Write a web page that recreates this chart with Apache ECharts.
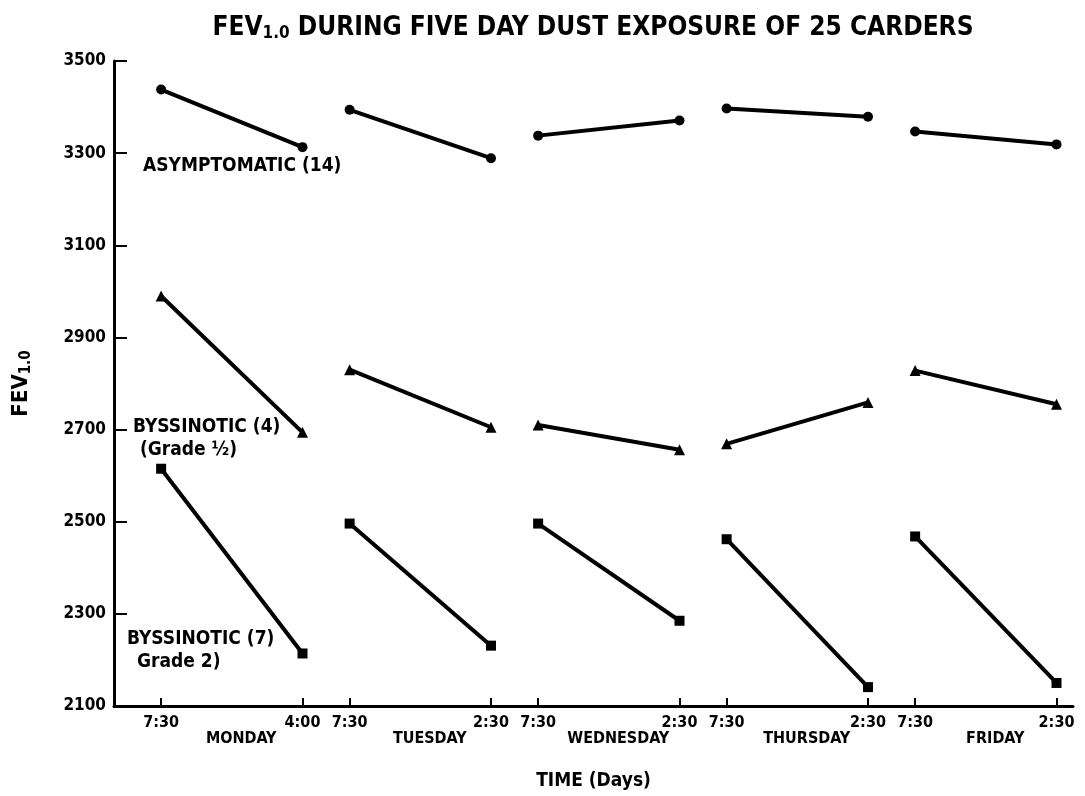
<!DOCTYPE html>
<html>
<head>
<meta charset="utf-8">
<script src="https://cdn.jsdelivr.net/npm/echarts@6/dist/echarts.min.js"></script>
<style>
  html, body { margin: 0; padding: 0; background: #fff; }
  #chart { width: 1085px; height: 796px; }
</style>
</head>
<body>
<div id="chart"></div>
<script>
const FONT = '"Liberation Sans Narrow", "DejaVu Sans Condensed", "Liberation Sans", sans-serif';

// x slots: 7:30 and end-of-shift reading for each day (not to time scale)
const slotPos = [0, 3, 4, 7, 8, 11, 12, 15, 16, 19];
const timeLabels = ['7:30', '4:00', '7:30', '2:30', '7:30', '2:30', '7:30', '2:30', '7:30', '2:30'];
const days = ['MONDAY', 'TUESDAY', 'WEDNESDAY', 'THURSDAY', 'FRIDAY'];

// FEV1.0 values
const asymptomatic = [3438, 3313, 3394, 3289, 3338, 3371, 3397, 3379, 3347, 3319];
const byssinotic4  = [2990, 2694, 2830, 2705, 2710, 2656, 2669, 2759, 2828, 2755];
const byssinotic7  = [2615, 2214, 2496, 2231, 2496, 2285, 2462, 2141, 2468, 2150];

const groups = [
  { name: 'Asymptomatic (14)', values: asymptomatic, symbol: 'circle', size: 10 },
  { name: 'Byssinotic (4)', values: byssinotic4, symbol: 'triangle', size: 11 },
  { name: 'Byssinotic (7)', values: byssinotic7, symbol: 'rect', size: 10 }
];

const chart = echarts.init(document.getElementById('chart'));

// one short segment per group per day
const series = [];
groups.forEach(g => {
  days.forEach((d, i) => {
    series.push({
      name: g.name,
      type: 'line',
      data: [[slotPos[2 * i], g.values[2 * i]], [slotPos[2 * i + 1], g.values[2 * i + 1]]],
      symbol: g.symbol,
      symbolSize: g.size,
      showSymbol: true,
      itemStyle: { color: '#000' },
      lineStyle: { color: '#000', width: 4 },
      animation: false
    });
  });
});

const timeOf = v => {
  const i = slotPos.indexOf(v);
  return i >= 0 ? timeLabels[i] : '';
};
const dayCenters = days.map((d, i) => (slotPos[2 * i] + slotPos[2 * i + 1]) / 2 + 0.2);

const txt = (text, x, y) => ({
  type: 'text', left: x, top: y,
  style: { text, font: 'bold 19px ' + FONT, fill: '#000' }
});

chart.setOption({
  backgroundColor: '#fff',
  animation: false,
  title: {
    text: '{m|FEV}{s|1.0}{m| DURING FIVE DAY DUST EXPOSURE OF 25 CARDERS}',
    left: 588, top: 9, textAlign: 'center',
    textStyle: {
      rich: {
        m: { fontFamily: FONT, fontWeight: 'bold', fontSize: 26, color: '#000' },
        s: { fontFamily: FONT, fontWeight: 'bold', fontSize: 17, color: '#000', padding: [11, 0, 0, 0] }
      }
    }
  },
  grid: { left: 114, right: 12, top: 61, bottom: 85 },
  xAxis: [{
    type: 'value',
    min: -1, max: 19.35,
    name: 'TIME (Days)',
    nameLocation: 'middle',
    nameGap: 66,
    nameTextStyle: { fontFamily: FONT, fontWeight: 'bold', fontSize: 19, color: '#000' },
    axisLine: { onZero: false, lineStyle: { color: '#000', width: 3 } },
    axisTick: { inside: true, length: 8, customValues: slotPos, lineStyle: { color: '#000', width: 2 } },
    axisLabel: {
      customValues: slotPos, formatter: timeOf, margin: 9,
      fontFamily: FONT, fontWeight: 'bold', fontSize: 16, color: '#000'
    },
    splitLine: { show: false }
  }, {
    type: 'value',
    position: 'bottom',
    min: -1, max: 19.35,
    axisLine: { show: false },
    axisTick: { show: false },
    axisLabel: {
      customValues: dayCenters,
      formatter: (v) => { const i = dayCenters.indexOf(v); return i >= 0 ? days[i] : ''; },
      margin: 25,
      fontFamily: FONT, fontWeight: 'bold', fontSize: 16, color: '#000'
    },
    splitLine: { show: false }
  }],
  yAxis: {
    type: 'value',
    min: 2100, max: 3500, interval: 200,
    name: '{m|FEV}{s|1.0}',
    nameLocation: 'middle',
    nameGap: 80,
    nameRotate: 90,
    nameTextStyle: {
      rich: {
        m: { fontFamily: FONT, fontWeight: 'bold', fontSize: 22, color: '#000' },
        s: { fontFamily: FONT, fontWeight: 'bold', fontSize: 15, color: '#000', padding: [10, 0, 0, 0] }
      }
    },
    axisLine: { show: true, onZero: false, lineStyle: { color: '#000', width: 3 } },
    axisTick: { show: true, inside: true, length: 13, lineStyle: { color: '#000', width: 2 } },
    axisLabel: {
      margin: 8, formatter: v => String(v),
      fontFamily: FONT, fontWeight: 'bold', fontSize: 17, color: '#000'
    },
    splitLine: { show: false }
  },
  graphic: [
    txt('ASYMPTOMATIC (14)', 143, 157),
    txt('BYSSINOTIC (4)', 133, 418),
    txt('(Grade ½)', 140, 441),
    txt('BYSSINOTIC (7)', 127, 630),
    txt('Grade 2)', 137, 653)
  ],
  series
});
</script>
</body>
</html>
